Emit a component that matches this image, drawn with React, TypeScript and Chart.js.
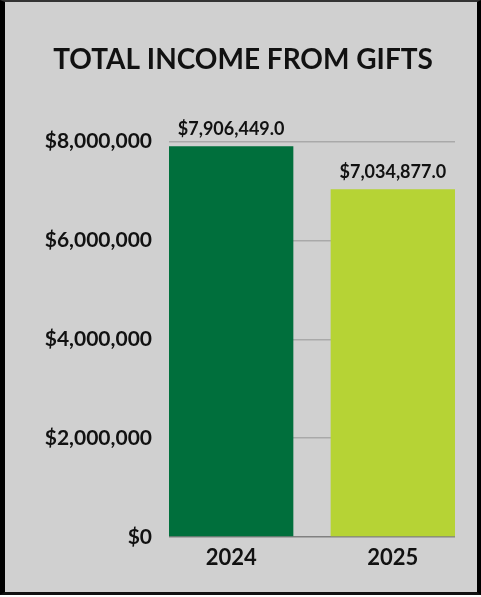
import React, { useEffect, useRef } from "react";
import { Chart, registerables } from "chart.js";

Chart.register(...registerables);

const titleText = "TOTAL INCOME FROM GIFTS";
const categories = ["2024", "2025"];
const incomeValues = [7906449, 7034877];
const barColors = ["#006f3c", "#b6d335"];
const yTickMax = 8000000;
const yTickStep = 2000000;

const FONT = "Lato, 'Open Sans', sans-serif";

const fmtMoney = (v: number) => "$" + Math.round(v).toLocaleString("en-US");
const fmtLabel = (v: number) =>
  "$" + v.toLocaleString("en-US", { minimumFractionDigits: 1, maximumFractionDigits: 1 });

const dataLabelPlugin = {
  id: "dataLabels",
  afterDatasetsDraw(chart: any) {
    const { ctx } = chart;
    const meta = chart.getDatasetMeta(0);
    ctx.save();
    ctx.font = `bold 18px ${FONT}`;
    ctx.fillStyle = "#111111";
    ctx.textAlign = "center";
    ctx.textBaseline = "alphabetic";
    meta.data.forEach((bar: any, i: number) => {
      ctx.fillText(fmtLabel(incomeValues[i]), bar.x, bar.y - 11);
    });
    ctx.restore();
  },
};

export default function App() {
  const ref = useRef<HTMLCanvasElement | null>(null);

  useEffect(() => {
    document.body.style.margin = "0";
    const canvas = ref.current;
    if (!canvas) return;
    const chart = new Chart(canvas, {
      type: "bar",
      data: {
        datasets: [
          {
            data: incomeValues.map((v, i) => ({ x: i, y: v })),
            backgroundColor: barColors,
            borderWidth: 0,
            categoryPercentage: 1,
            barPercentage: 0.7692,
          },
        ],
      },
      plugins: [dataLabelPlugin],
      options: {
        animation: false,
        responsive: false,
        layout: { padding: { left: 31, right: 26, top: 0, bottom: 0 } },
        plugins: {
          legend: { display: false },
          tooltip: { enabled: false },
          title: {
            display: true,
            text: titleText,
            color: "#111111",
            font: { family: FONT, size: 28, weight: "bold" },
            padding: { top: 43, bottom: 65 },
          },
        },
        scales: {
          x: {
            type: "linear",
            offset: false,
            min: -0.3846,
            max: categories.length - 1 + 0.3846,
            grid: { display: false, drawTicks: false, offset: false },
            border: { display: false },
            afterBuildTicks(scale: any) {
              scale.ticks = categories.map((_, i) => ({ value: i }));
            },
            afterFit(scale: any) {
              scale.height = 60;
            },
            ticks: {
              autoSkip: false,
              padding: 8,
              color: "#111111",
              font: { family: FONT, size: 22, weight: "bold" },
              callback: (v: any) => categories[v] ?? "",
            },
          },
          y: {
            min: 0,
            max: yTickMax,
            grid: {
              drawTicks: false,
              color: (c: any) => (c.tick && c.tick.value === 0 ? "#808080" : "#a9a9a9"),
              lineWidth: 1.5,
            },
            border: { display: false },
            afterFit(scale: any) {
              scale.width = 138;
            },
            ticks: {
              stepSize: yTickStep,
              padding: 17,
              color: "#111111",
              font: { family: FONT, size: 21, weight: "bold" },
              callback: (v: any) => fmtMoney(Number(v)),
            },
          },
        },
      } as any,
    });
    return () => chart.destroy();
  }, []);

  return (
    <div
      style={{
        position: "fixed",
        left: 0,
        top: 0,
        width: 481,
        height: 597,
        background: "#ffffff",
      }}
    >
      <div
        style={{
          position: "absolute",
          left: 0,
          top: 0,
          width: 481,
          height: 595,
          boxSizing: "border-box",
          background: "#d0d0d0",
          borderTop: "2px solid #333",
          borderLeft: "5px solid #000",
          borderRight: "4px solid #000",
          borderBottom: "3px solid #111",
        }}
      />
      <canvas
        ref={ref}
        width={481}
        height={597}
        style={{ position: "absolute", left: 0, top: 0, width: 481, height: 597 }}
      />
    </div>
  );
}
